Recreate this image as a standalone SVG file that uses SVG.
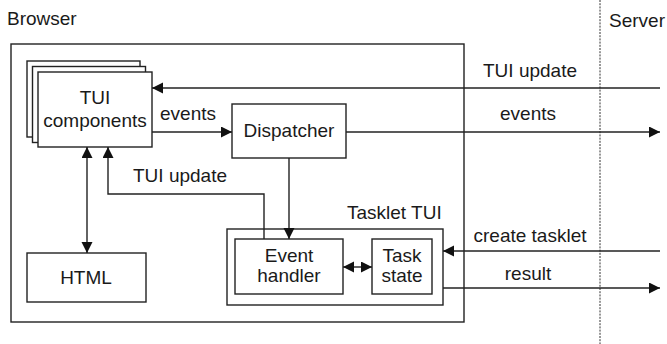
<svg xmlns="http://www.w3.org/2000/svg" width="667" height="344" viewBox="0 0 667 344">
<defs>
<style>
text{font-family:"Liberation Sans",Arial,sans-serif;font-size:19px;fill:#1a1a1a}
.c{text-anchor:middle}
.box{fill:#fff;stroke:#222;stroke-width:1.4}
.ln{fill:none;stroke:#222;stroke-width:1.4}
</style>
<marker id="ah" markerUnits="userSpaceOnUse" markerWidth="12" markerHeight="12" refX="11" refY="5.5" orient="auto-start-reverse">
<path d="M0,0 L11,5.5 L0,11 z" fill="#111"/>
</marker>
</defs>
<rect width="667" height="344" fill="#fff"/>
<text x="7" y="25">Browser</text>
<text x="609" y="27">Server</text>
<line x1="600" y1="0" x2="600" y2="344" stroke="#333" stroke-width="1" stroke-dasharray="2,1.2"/>
<rect id="browser" class="box" x="11" y="44" width="453" height="278"/>
<g id="tui-components">
<rect class="box" x="27" y="61" width="113" height="76"/>
<rect class="box" x="32.5" y="66.5" width="113" height="76"/>
<rect class="box" x="38" y="72" width="114" height="75"/>
<text class="c" x="95" y="104">TUI</text>
<text class="c" x="95" y="127">components</text>
</g>
<g id="dispatcher">
<rect class="box" x="232" y="104" width="114" height="54"/>
<text class="c" x="289" y="137">Dispatcher</text>
</g>
<g id="html">
<rect class="box" x="27" y="253" width="119" height="49"/>
<text class="c" x="86" y="284">HTML</text>
</g>
<g id="tasklet-tui">
<rect class="box" x="227" y="229" width="216" height="76"/>
<text x="347" y="219">Tasklet TUI</text>
</g>
<g id="event-handler">
<rect class="box" x="235" y="239" width="108" height="55"/>
<text class="c" x="289" y="262">Event</text>
<text class="c" x="289" y="282">handler</text>
</g>
<g id="task-state">
<rect class="box" x="372" y="239" width="60" height="55"/>
<text class="c" x="402" y="262">Task</text>
<text class="c" x="402" y="282">state</text>
</g>
<g id="connectors">
<path class="ln" d="M660,88 L152,88" marker-end="url(#ah)"/>
<path class="ln" d="M152,132 L232,132" marker-end="url(#ah)"/>
<path class="ln" d="M346,132 L660,132" marker-end="url(#ah)"/>
<path class="ln" d="M289,158 L289,239" marker-end="url(#ah)"/>
<path class="ln" d="M264,239 L264,194 L108,194 L108,147" marker-end="url(#ah)"/>
<path class="ln" d="M87,147 L87,253" marker-start="url(#ah)" marker-end="url(#ah)"/>
<path class="ln" d="M343,267 L372,267" marker-start="url(#ah)" marker-end="url(#ah)"/>
<path class="ln" d="M660,251 L443,251" marker-end="url(#ah)"/>
<path class="ln" d="M443,288 L660,288" marker-end="url(#ah)"/>
<text class="c" x="530" y="77">TUI update</text>
<text class="c" x="528" y="120">events</text>
<text class="c" x="188" y="120">events</text>
<text x="133" y="182">TUI update</text>
<text class="c" x="530" y="242">create tasklet</text>
<text class="c" x="528" y="280">result</text>
</g>
</svg>
